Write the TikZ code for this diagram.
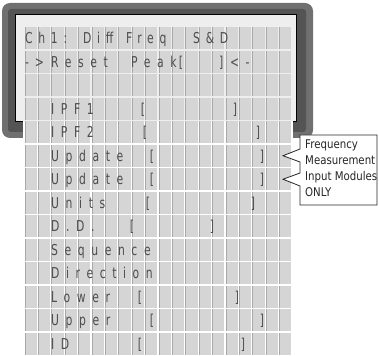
\documentclass[tikz,border=0pt]{standalone}
\usepackage{fontspec}
\newfontfamily\lcdfont[FakeStretch=0.72, LetterSpace=38]{DejaVu Sans}
\newfontfamily\lcdwide[FakeStretch=0.72, LetterSpace=44]{DejaVu Sans}
\newfontfamily\lcdplain[FakeStretch=0.72]{DejaVu Sans}
\newfontfamily\notefont[FakeStretch=0.85]{DejaVu Sans}
\definecolor{lcdcell}{RGB}{213,213,213}
\definecolor{lcdedge}{RGB}{168,168,168}
\definecolor{lcdink}{RGB}{78,78,78}
\definecolor{bezel}{RGB}{112,112,112}
\definecolor{bezeldk}{RGB}{84,84,84}
\definecolor{screenbg}{RGB}{238,238,238}
\tikzset{
  lcdtop/.style   = {anchor=base west, inner sep=0pt, text=lcdink,
                     font=\lcdfont\fontsize{15}{15}\selectfont},
  lcdrow/.style   = {anchor=base west, inner sep=0pt, text=lcdink,
                     font=\lcdwide\fontsize{15}{15}\selectfont},
  lcdbrk/.style   = {anchor=base, inner sep=0pt, text=lcdink,
                     font=\lcdplain\fontsize{15}{15}\selectfont},
  cellbox/.style  = {fill=lcdcell},
  celledge/.style = {draw=lcdedge, line width=0.7pt},
  notebox/.style  = {draw=black!85, fill=white, line width=0.8pt, line join=miter},
  notetxt/.style  = {anchor=north west, align=left, inner sep=0pt, text=black!85,
                     font=\notefont\fontsize{12}{15.7}\selectfont},
}

\begin{document}
\begin{tikzpicture}[x=1pt, y=-1pt]
  \useasboundingbox (0,0) rectangle (379,355);
  % bezel and screen
  \fill[bezel, rounded corners=8pt] (2,3) rectangle (313,138);
  \fill[bezeldk, rounded corners=3pt] (8,9) rectangle (306,132);
  \filldraw[fill=screenbg, draw=black, line width=1pt] (15,15) rectangle (296,122);
  \fill[white] (23,121) rectangle (293,356);
  % character cells
  \foreach \r in {0,...,13}
    \foreach \c in {0,...,19} {
      \fill[cellbox] ({24+13.4*\c+0.7},{26.5+23.5*\r+0.7}) rectangle ++(12,22.1);
      \draw[celledge] ({24+13.4*\c+0.9},{26.5+23.5*\r+0.7}) -- ++(0,22.1);
    }
  % top lines
  \node[lcdtop] (ch) at (25,43.75) {Ch1:};
  \node[lcdtop] (diff) at (83,43.75) {Diff};
  \node[lcdtop] (freq) at (126,43.75) {Freq};
  \node[lcdtop] (sd) at (193,43.75) {S\&D};
  \node[lcdtop] (arrowin) at (25,67.25) {->};
  \node[lcdrow] (reset) at (51,67.25) {Reset};
  \node[lcdrow] (peak) at (131,67.25) {Peak};
  \node[lcdbrk] (resetopen) at (181,67.25) {[};
  \node[lcdrow] (resetclose) at (219,67.25) {]<-};
  % menu lines
  \foreach \r/\word/\lb/\rb in {4/IPF1/143/235, 5/IPF2/145/258, 6/Update/152/262,
                                7/Update/152/262, 8/Units/148/253, 9/D.D./132/212,
                                12/Lower/140/237, 13/Upper/152/262, 14/ID/140/243} {
    \node[lcdrow] (word\r) at (51,{26.5+23.5*(\r-0.5)+5.5}) {\word};
    \node[lcdbrk] (open\r) at (\lb,{26.5+23.5*(\r-0.5)+5.5}) {[};
    \node[lcdbrk] (close\r) at (\rb,{26.5+23.5*(\r-0.5)+5.5}) {]};
  }
  \node[lcdrow] (word10) at (51,255.25) {Sequence};
  \node[lcdrow] (word11) at (51,278.75) {Direction};
  % callout
  \draw[notebox] (300,135) -- (377,135) -- (377,205) -- (300,205) -- (300,186)
    -- (283,179.25) -- (300,173) -- (300,162) -- (283,155.75) -- (300,149) -- cycle;
  \node[notetxt] (note) at (305,140) {Frequency\\Measurement\\Input Modules\\ONLY};
\end{tikzpicture}
\end{document}
